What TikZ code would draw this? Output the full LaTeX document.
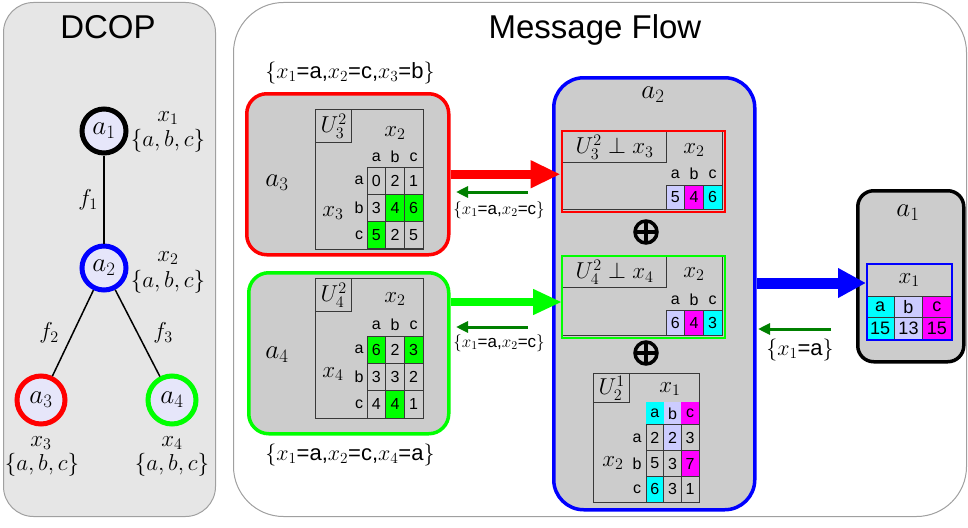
\documentclass[tikz,border=0pt]{standalone}
\usepackage{fix-cm}
\usepackage{amsmath}
\usepackage{amssymb}
\usepackage{fontspec}
\setmainfont{Liberation Sans}
\usetikzlibrary{arrows.meta}

\definecolor{panelgrey}{HTML}{E6E6E6}
\definecolor{edgegrey}{HTML}{A0A0A0}
\definecolor{boxgrey}{HTML}{CCCCCC}
\definecolor{circfill}{HTML}{E6E6FA}
\definecolor{lav}{HTML}{CCCCFF}
\definecolor{mag}{HTML}{FF00FF}
\definecolor{cyn}{HTML}{00FFFF}
\definecolor{grn}{HTML}{00FF00}
\definecolor{msggreen}{HTML}{008000}
\definecolor{tabline}{HTML}{383838}

\newcommand{\titlefont}{\fontsize{33}{38}\selectfont}
\newcommand{\agfont}{\fontsize{27}{31}\selectfont}
\newcommand{\lblfont}{\fontsize{23}{27}\selectfont}
\newcommand{\asgfont}{\fontsize{22}{26}\selectfont}
\newcommand{\msgfont}{\fontsize{17}{20}\selectfont}
\newcommand{\cellfont}{\fontsize{16}{18}\selectfont}
\newcommand{\bigcellfont}{\fontsize{18}{20}\selectfont}

\tikzset{
  agent/.style={circle, line width=5pt, fill=circfill, minimum size=44pt, inner sep=0pt, font=\agfont},
  panel/.style={draw=edgegrey, line width=1pt, inner sep=0pt, anchor=north west},
  agentbox/.style={rounded corners=20pt, fill=boxgrey, line width=3.5pt, inner sep=0pt, anchor=north west},
  tframe/.style={draw=tabline, line width=1.3pt, inner sep=0pt, anchor=north west},
  cell/.style={draw=tabline, line width=1pt, inner sep=0pt, font=\cellfont},
  hdr/.style={inner sep=0pt, font=\cellfont},
  mlbl/.style={inner sep=0pt, font=\lblfont},
  msg/.style={draw=msggreen, line width=3pt, -{Triangle[length=12pt,width=11pt]}},
  oplus/.style={circle, draw, line width=3.5pt, minimum size=22pt, inner sep=0pt,
    path picture={\draw[line width=3.5pt] (path picture bounding box.north) -- (path picture bounding box.south)
      (path picture bounding box.west) -- (path picture bounding box.east);}}
}

\begin{document}
\begin{tikzpicture}[x=1pt,y=-1pt]
\useasboundingbox (0,0) rectangle (968,527);
% panels
\node[panel, fill=panelgrey, rounded corners=30pt, minimum width=212pt, minimum height=514pt] (left) at (3,2) {};
\node[panel, fill=white, rounded corners=50pt, minimum width=733pt, minimum height=514pt] (right) at (233,2) {};
\node[font=\titlefont, anchor=base] (dcop) at (108,39) {DCOP};
\node[font=\titlefont, anchor=base] (flow) at (595,39) {Message Flow};

% DCOP tree
\node[agent, draw=black] (a1) at (104,131) {$a_1$};
\node[agent, draw=blue] (a2) at (104,268) {$a_2$};
\node[agent, draw=red, minimum size=48pt] (a3) at (41,400) {$a_3$};
\node[agent, draw=grn, minimum size=48pt] (a4) at (172,400) {$a_4$};
\draw[line width=1.5pt] (a1) -- (a2);
\draw[line width=1.5pt] (a2) -- (a3);
\draw[line width=1.5pt] (a2) -- (a4);
\node[mlbl] (f1) at (88,200) {$f_1$};
\node[mlbl] (f2) at (49,333) {$f_2$};
\node[mlbl] (f3) at (163,333) {$f_3$};
\node[mlbl] (x1) at (168,118) {$x_1$};
\node[mlbl] (d1) at (168,141) {$\{a,b,c\}$};
\node[mlbl] (x2) at (168,258) {$x_2$};
\node[mlbl] (d2) at (168,282) {$\{a,b,c\}$};
\node[mlbl] (x3) at (41,443) {$x_3$};
\node[mlbl] (d3) at (42,465) {$\{a,b,c\}$};
\node[mlbl] (x4) at (172,443) {$x_4$};
\node[mlbl] (d4) at (172,465) {$\{a,b,c\}$};

% agent boxes
\node[agentbox, draw=red, minimum width=202pt, minimum height=161pt] (a3box) at (245,92) {};
\node[agentbox, draw=grn, minimum width=200pt, minimum height=161pt] (a4box) at (247,271) {};
\node[agentbox, draw=blue, rounded corners=30pt, minimum width=201pt, minimum height=432pt] (a2box) at (552,76) {};
\node[agentbox, draw=black, rounded corners=16pt, minimum width=106pt, minimum height=171pt] (a1box) at (856,189) {};
\node[font=\agfont] (a3name) at (277,183) {$a_3$};
\node[font=\agfont] (a4name) at (277,355) {$a_4$};
\node[font=\agfont] (a2name) at (653,95) {$a_2$};
\node[font=\agfont] (a1name) at (908,213) {$a_1$};
\node[font=\asgfont] (asg3) at (350,73) {$\{x_1$=a,$x_2$=c,$x_3$=b$\}$};
\node[font=\asgfont] (asg4) at (350,455) {$\{x_1$=a,$x_2$=c,$x_4$=a$\}$};

% utility of a3
\begin{scope}[shift={(315,109)}]
\node[tframe, minimum width=108pt, minimum height=140pt] (u3) at (0,0) {};
\node[tframe, minimum width=36pt, minimum height=33pt, font=\lblfont] (u3-U) at (0,0) {$U_3^2$};
\node[mlbl] (u3-x) at (80,24) {$x_2$};
\node[mlbl] (u3-y) at (18,104) {$x_3$};
\foreach \l [count=\j] in {a,b,c} {
  \node[hdr] (u3-c\j) at ({42.67+18.67*\j},48) {\l};
  \node[hdr] (u3-r\j) at (44,{44.33+27.33*\j}) {\l};
}
\foreach \v/\c [count=\j] in {0/boxgrey,2/boxgrey,1/boxgrey}
  \node[cell, fill=\c, minimum width=18.67pt, minimum height=27.33pt] (u3-1-\j) at ({42.67+18.67*\j},71.67) {\v};
\foreach \v/\c [count=\j] in {3/boxgrey,4/grn,6/grn}
  \node[cell, fill=\c, minimum width=18.67pt, minimum height=27.33pt] (u3-2-\j) at ({42.67+18.67*\j},99) {\v};
\foreach \v/\c [count=\j] in {5/grn,2/boxgrey,5/boxgrey}
  \node[cell, fill=\c, minimum width=18.67pt, minimum height=27.33pt] (u3-3-\j) at ({42.67+18.67*\j},126.33) {\v};
\end{scope}

% utility of a4
\begin{scope}[shift={(315,278)}]
\node[tframe, minimum width=108pt, minimum height=140pt] (u4) at (0,0) {};
\node[tframe, minimum width=36pt, minimum height=33pt, font=\lblfont] (u4-U) at (0,0) {$U_4^2$};
\node[mlbl] (u4-x) at (80,21) {$x_2$};
\node[mlbl] (u4-y) at (18,96) {$x_4$};
\foreach \l [count=\j] in {a,b,c} {
  \node[hdr] (u4-c\j) at ({42.67+18.67*\j},47) {\l};
  \node[hdr] (u4-r\j) at (44,{44.33+27.33*\j}) {\l};
}
\foreach \v/\c [count=\j] in {6/grn,2/boxgrey,3/grn}
  \node[cell, fill=\c, minimum width=18.67pt, minimum height=27.33pt] (u4-1-\j) at ({42.67+18.67*\j},71.67) {\v};
\foreach \v/\c [count=\j] in {3/boxgrey,3/boxgrey,2/boxgrey}
  \node[cell, fill=\c, minimum width=18.67pt, minimum height=27.33pt] (u4-2-\j) at ({42.67+18.67*\j},99) {\v};
\foreach \v/\c [count=\j] in {4/boxgrey,4/grn,1/boxgrey}
  \node[cell, fill=\c, minimum width=18.67pt, minimum height=27.33pt] (u4-3-\j) at ({42.67+18.67*\j},126.33) {\v};
\end{scope}

% projections received by a2
\node[tframe, minimum width=160pt, minimum height=78pt] (t1-in) at (562,131) {};
\node[tframe, minimum width=104pt, minimum height=31pt, font=\lblfont] (t1-U) at (562,131) {$U_3^2\perp x_3$};
\node[mlbl] (t1-x) at (694,150) {$x_2$};
\foreach \l/\v/\c [count=\j] in {a/5/lav,b/4/mag,c/6/cyn} {
  \node[hdr] (t1-h\j) at ({656.67+18.67*\j},174) {\l};
  \node[cell, fill=\c, minimum width=18.67pt, minimum height=24pt] (t1-\j) at ({656.67+18.67*\j},197) {\v};
}
\node[draw=red, line width=2.2pt, inner sep=0pt, minimum width=163pt, minimum height=81pt, anchor=north west] (t1) at (560.5,129.5) {};

\node[tframe, minimum width=160pt, minimum height=79pt] (t2-in) at (562,256) {};
\node[tframe, minimum width=104pt, minimum height=31pt, font=\lblfont] (t2-U) at (562,256) {$U_4^2\perp x_4$};
\node[mlbl] (t2-x) at (694,274) {$x_2$};
\foreach \l/\v/\c [count=\j] in {a/6/lav,b/4/mag,c/3/cyn} {
  \node[hdr] (t2-h\j) at ({656.67+18.67*\j},300) {\l};
  \node[cell, fill=\c, minimum width=18.67pt, minimum height=25pt] (t2-\j) at ({656.67+18.67*\j},322.5) {\v};
}
\node[draw=grn, line width=2.2pt, inner sep=0pt, minimum width=163pt, minimum height=82pt, anchor=north west] (t2) at (560.5,254.5) {};

\node[oplus] (op1) at (646,232) {};
\node[oplus] (op2) at (646,353) {};

% own utility of a2
\node[tframe, minimum width=106pt, minimum height=129pt] (t3) at (593,373) {};
\node[tframe, minimum width=36pt, minimum height=29pt, font=\lblfont] (t3-U) at (593,373) {$U_2^1$};
\node[mlbl] (t3-x) at (670,389) {$x_1$};
\node[mlbl] (t3-y) at (613,463) {$x_2$};
\foreach \l/\c [count=\j] in {a/cyn,b/lav,c/mag} {
  \node[hdr, fill=\c, minimum width=17.67pt, minimum height=23pt] (t3-c\j) at ({637.17+17.67*\j},413.5) {\l};
  \node[hdr] (t3-r\j) at (637,{412.13+25.67*\j}) {\l};
}
\foreach \v/\c [count=\j] in {2/boxgrey,2/lav,3/boxgrey}
  \node[cell, fill=\c, minimum width=17.67pt, minimum height=25.67pt] (t3-1-\j) at ({637.17+17.67*\j},437.8) {\v};
\foreach \v/\c [count=\j] in {5/boxgrey,3/boxgrey,7/mag}
  \node[cell, fill=\c, minimum width=17.67pt, minimum height=25.67pt] (t3-2-\j) at ({637.17+17.67*\j},463.5) {\v};
\foreach \v/\c [count=\j] in {6/cyn,3/boxgrey,1/boxgrey}
  \node[cell, fill=\c, minimum width=17.67pt, minimum height=25.67pt] (t3-3-\j) at ({637.17+17.67*\j},489.2) {\v};

% result at a1
\node[tframe, fill=boxgrey, minimum width=85pt, minimum height=33pt, font=\lblfont] (t4-x) at (866,263) {$x_1$};
\foreach \l/\v/\c [count=\j] in {a/15/cyn,b/13/lav,c/15/mag} {
  \node[cell, fill=\c, font=\bigcellfont, minimum width=28.33pt, minimum height=21.5pt] (t4-h\j) at ({851.83+28.33*\j},306.75) {\l};
  \node[cell, fill=\c, font=\bigcellfont, minimum width=28.33pt, minimum height=21.5pt] (t4-\j) at ({851.83+28.33*\j},328.25) {\v};
}
\node[draw=blue, line width=2.2pt, inner sep=0pt, minimum width=85pt, minimum height=76pt, anchor=north west] (t4) at (866,263) {};

% messages
\coordinate (g-in) at (562,302);
\coordinate (b-in) at (866,283);
\draw[red, line width=9pt, -{Triangle[length=30pt,width=26pt]}] (a3box.east) -- (a3box.east -| t1.west);
\draw[grn, line width=8pt, -{Triangle[length=29pt,width=24pt]}] (a4box.east |- g-in) -- (g-in);
\draw[blue, line width=11pt, -{Triangle[length=28pt,width=28pt]}] (a2box.east |- b-in) -- (b-in);
\coordinate (m3s) at (528,192);
\coordinate (m3e) at (456,192);
\coordinate (m4s) at (528,327);
\coordinate (m4e) at (456,327);
\coordinate (m1s) at (831,329);
\coordinate (m1e) at (758,329);
\draw[msg] (m3s) -- (m3e);
\draw[msg] (m4s) -- (m4e);
\draw[msg] (m1s) -- (m1e);
\node[font=\msgfont] (v3) at (499,210) {$\{x_1$=a,$x_2$=c$\}$};
\node[font=\msgfont] (v4) at (499,343) {$\{x_1$=a,$x_2$=c$\}$};
\node[font=\asgfont] (v1) at (800,350) {$\{x_1$=a$\}$};
\end{tikzpicture}
\end{document}
